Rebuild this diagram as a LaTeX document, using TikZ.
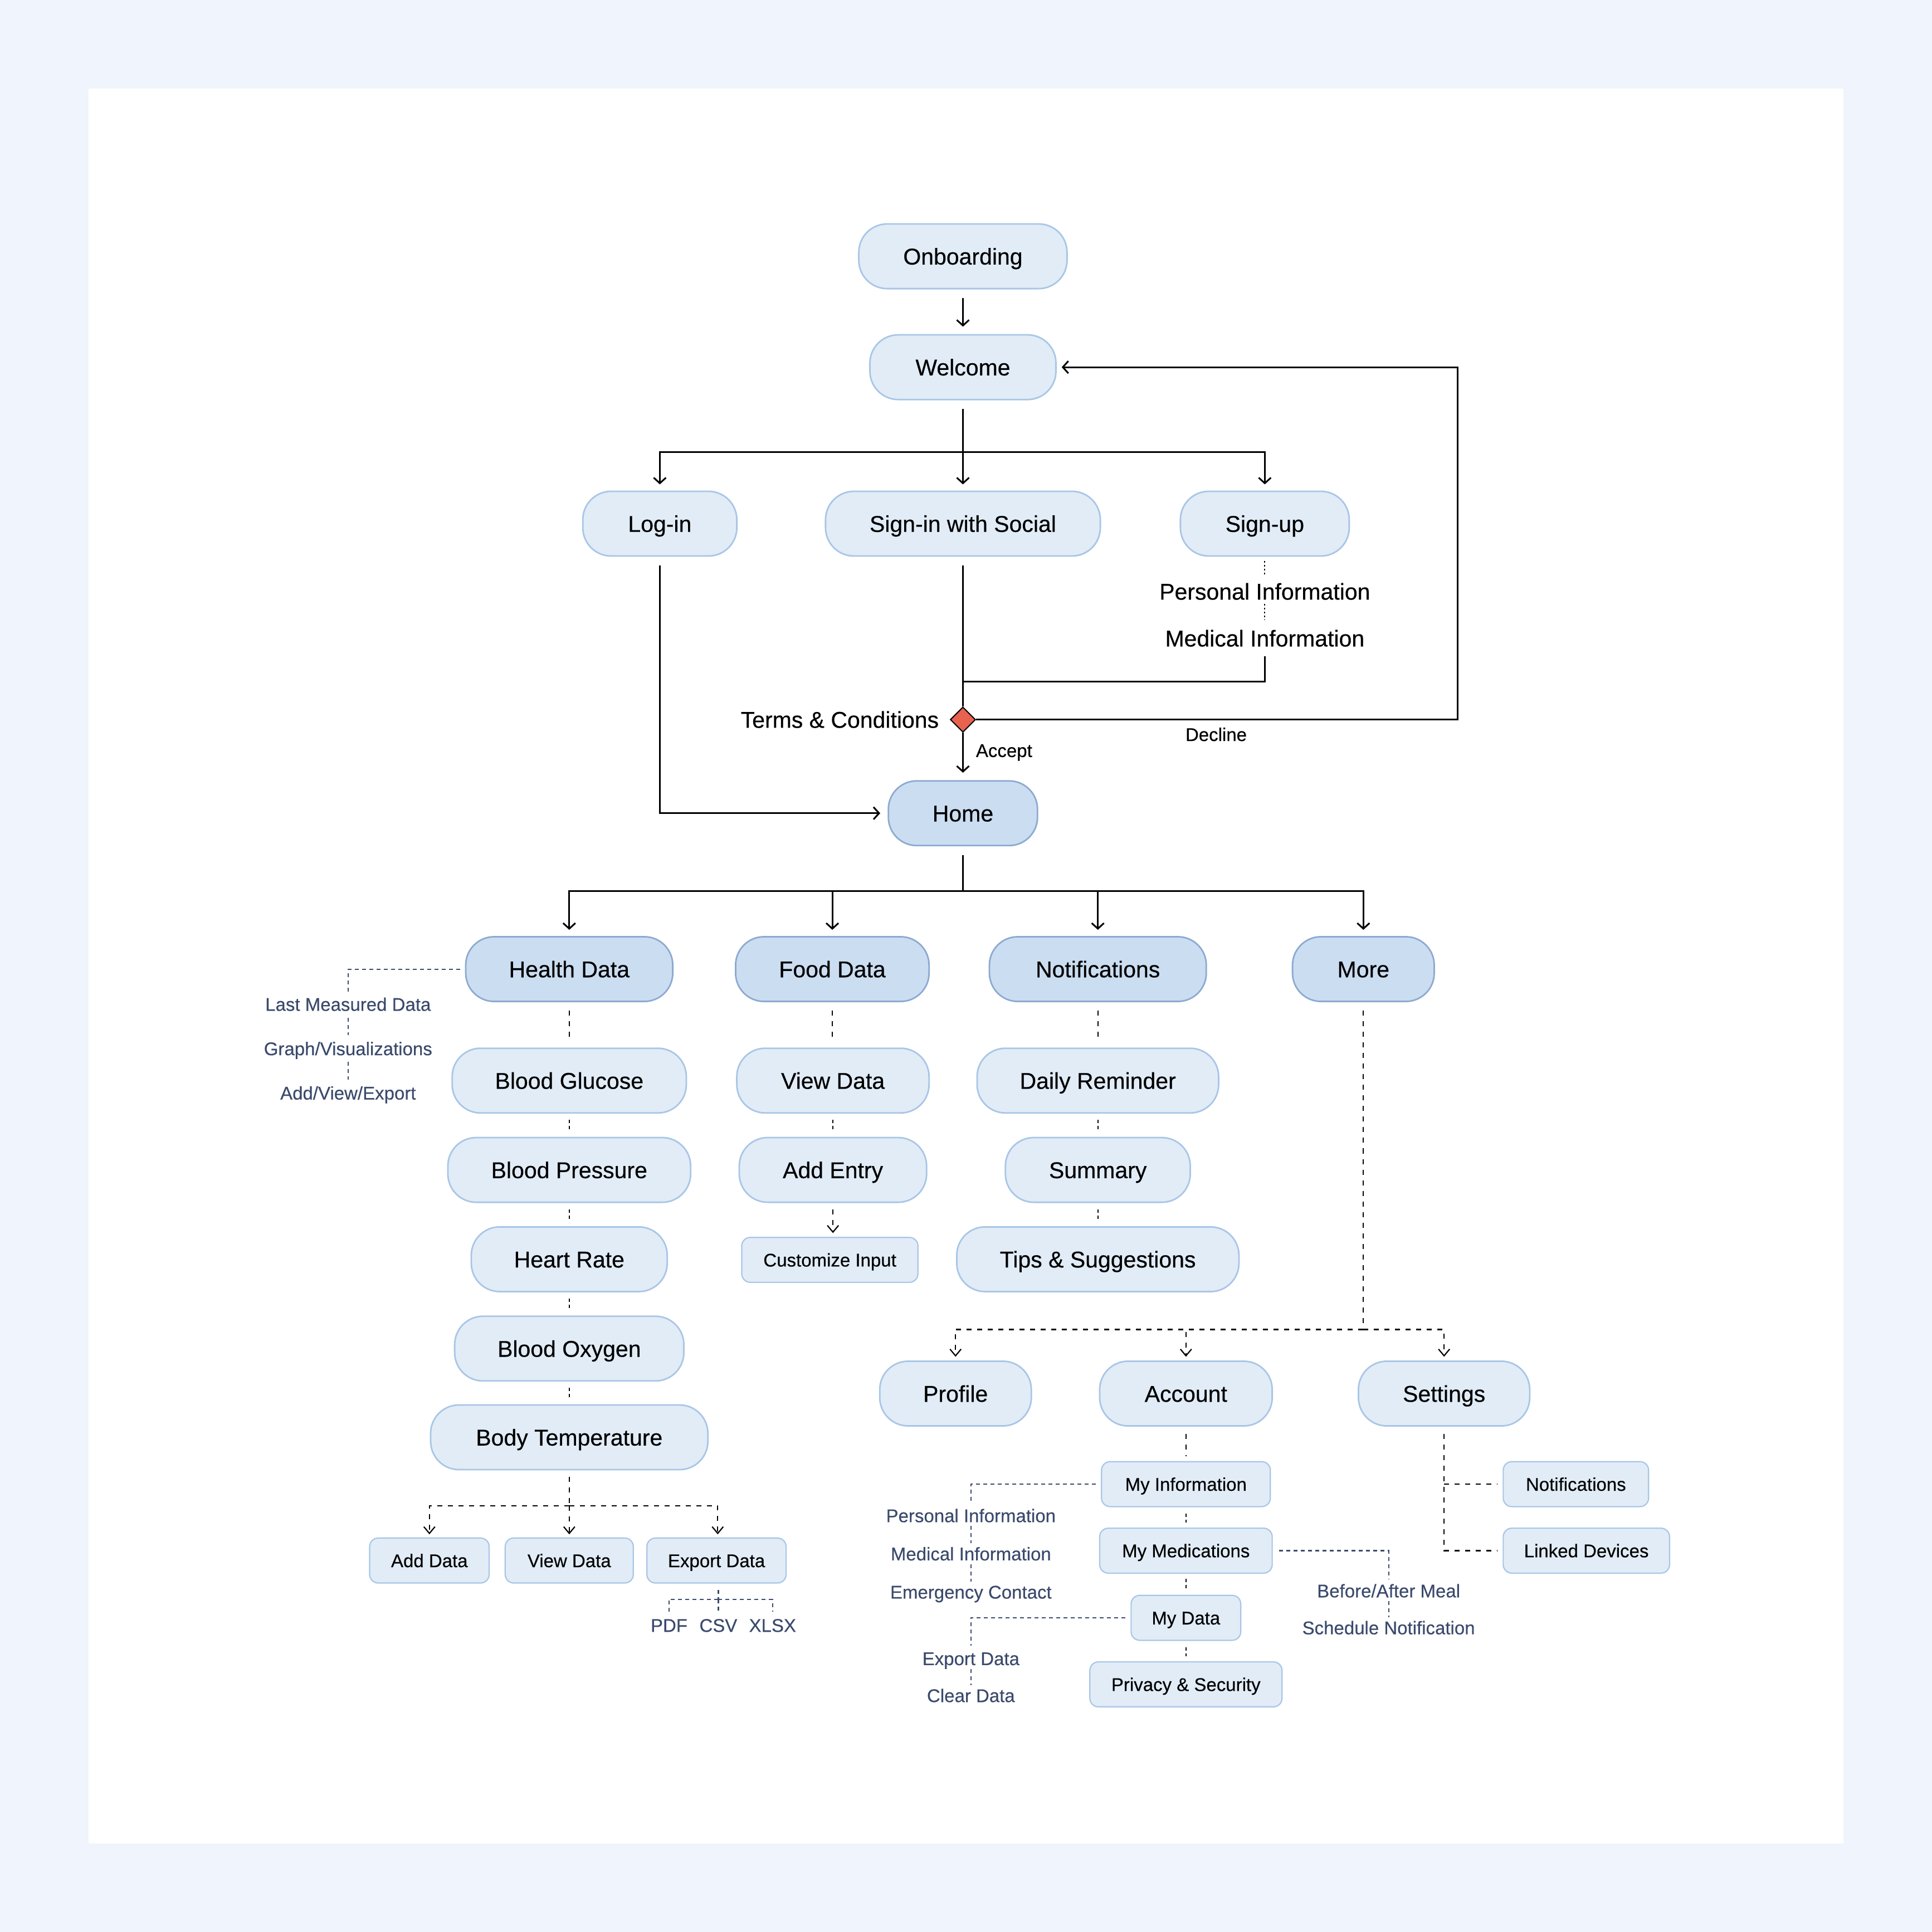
\documentclass[tikz,border=0pt]{standalone}
\usepackage{fontspec}
\setmainfont{Liberation Sans}[FakeBold=0.35]
\usetikzlibrary{arrows.meta,shapes.geometric,calc}
\newlength{\vu}\setlength{\vu}{2.2117pt}
\newcommand\fbig{\fontsize{41pt}{49pt}\selectfont}
\newcommand\fsmall{\fontsize{33pt}{40pt}\selectfont}
\definecolor{bgout}{HTML}{F0F4FC}
\definecolor{fillL}{HTML}{E1ECF7}
\definecolor{drawL}{HTML}{A9C6E6}
\definecolor{fillD}{HTML}{CBDDF1}
\definecolor{drawD}{HTML}{8DAAD0}
\definecolor{slate}{HTML}{3B4A6C}
\definecolor{dred}{HTML}{E8624F}
\tikzset{
  pill/.style={draw=drawL, fill=fillL, line width=2.8pt, rounded corners=23\vu,
    minimum height=52.5\vu, inner sep=0pt, font=\fbig, text height=29.5pt, text depth=0pt, text=black},
  pillD/.style={pill, draw=drawD, fill=fillD},
  sbox/.style={draw=drawL, fill=fillL, line width=2.2pt, rounded corners=7\vu,
    minimum height=36.5\vu, inner sep=0pt, font=\fsmall, text height=23.8pt, text depth=0pt, text=black},
  lbl/.style={inner sep=0pt, font=\fbig, text height=29.5pt, text depth=0pt, text=black},
  slbl/.style={inner sep=0pt, font=\fsmall, text height=23.8pt, text depth=0pt, text=black},
  sl/.style={slbl, text=slate},
  conn/.style={draw=black, line width=3pt},
  arr/.style={conn, -{Straight Barb[length=10pt,width=22pt]}},
  dsh/.style={draw=black, line width=2.2pt, dash pattern=on 9pt off 10pt},
  sdash/.style={draw=black, line width=2.2pt, dash pattern=on 6pt off 5pt},
  darr/.style={dsh, -{Straight Barb[length=12pt,width=20pt]}},
  sdsh/.style={draw=slate, line width=2.1pt, dash pattern=on 7pt off 6pt},
  dotl/.style={draw=black, line width=2pt, dash pattern=on 3pt off 4pt},
}
\begin{document}
\begin{tikzpicture}[x=2.2117pt,y=-2.2117pt]
\fill[bgout] (0,0) rectangle (1568,1568);
\fill[white] (72,72) rectangle (1496,1496);
\useasboundingbox (0,0) rectangle (1568,1568);

% top flow
\node[pill, minimum width=169\vu] (onb) at (781.5,208) {Onboarding};
\node[pill, minimum width=151\vu] (wel) at (781.5,298) {Welcome};
\node[pill, minimum width=125\vu] (login) at (535.5,425) {Log-in};
\node[pill, minimum width=223\vu] (social) at (781.5,425) {Sign-in with Social};
\node[pill, minimum width=137\vu] (signup) at (1026.5,425) {Sign-up};
\node[lbl] (pinfo) at (1026.5,480) {Personal Information};
\node[lbl] (minfo) at (1026.5,518) {Medical Information};
\node[diamond, draw=black, fill=dred, line width=2pt, minimum size=20.5\vu, inner sep=0pt] (tc) at (781.5,584) {};
\node[lbl, anchor=east] (tclabel) at (762,584) {Terms \& Conditions};
\node[slbl, anchor=west] (accept) at (792,609) {Accept};
\node[slbl] (decline) at (987,596) {Decline};
\node[pillD, minimum width=121\vu] (home) at (781.5,660) {Home};

\coordinate (j1) at (781.5,367);
\coordinate (j2) at (781.5,553);
\coordinate (dc) at (1183,584);
\coordinate (j3) at (781.5,723);

\draw[arr, shorten <=7\vu, shorten >=6\vu] (onb.south) -- (wel.north);
\draw[conn, shorten <=7\vu] (wel.south) -- (j1);
\draw[arr, shorten >=5\vu] (j1) -| (login.north);
\draw[arr, shorten >=5\vu] (j1) -| (signup.north);
\draw[arr, shorten >=5\vu] (j1) -- (social.north);
\draw[dotl, shorten <=3.5\vu, shorten >=6.3\vu] (signup.south) -- (pinfo.north);
\draw[dotl, shorten <=3.5\vu, shorten >=8\vu] (pinfo.south) -- (minfo.north);
\draw[conn, shorten <=8\vu] (minfo.south) |- (j2);
\draw[conn, shorten <=7\vu] (social.south) -- (tc.north);
\draw[arr, shorten >=4\vu] (tc.east) -- (dc) |- (wel.east);
\draw[arr, shorten >=6\vu] (tc.south) -- (home.north);
\draw[arr, shorten <=7\vu, shorten >=6\vu] (login.south) |- (home.west);

% second level
\node[pillD, minimum width=168\vu] (health) at (462,786.5) {Health Data};
\node[pillD, minimum width=157\vu] (food) at (675.5,786.5) {Food Data};
\node[pillD, minimum width=176\vu] (notif) at (891,786.5) {Notifications};
\node[pillD, minimum width=115\vu] (more) at (1106.5,786.5) {More};

\draw[conn, shorten <=7\vu] (home.south) -- (j3);
\draw[arr, shorten >=5\vu] (j3) -| (health.north);
\draw[arr, shorten >=5\vu] (j3) -| (food.north);
\draw[arr, shorten >=5\vu] (j3) -| (notif.north);
\draw[arr, shorten >=5\vu] (j3) -| (more.north);

% health column
\node[pill, minimum width=190\vu] (glucose) at (462,877) {Blood Glucose};
\node[pill, minimum width=197\vu] (pressure) at (462,949.5) {Blood Pressure};
\node[pill, minimum width=159\vu] (heart) at (462,1022) {Heart Rate};
\node[pill, minimum width=186\vu] (oxygen) at (462,1094.5) {Blood Oxygen};
\node[pill, minimum width=225\vu] (bodyt) at (462,1166.5) {Body Temperature};
\node[sbox, minimum width=97\vu] (adddata) at (348.5,1266.5) {Add Data};
\node[sbox, minimum width=104\vu] (viewdata) at (462,1266.5) {View Data};
\node[sbox, minimum width=113\vu] (export) at (581.5,1266.5) {Export Data};
\node[sl] (pdf) at (543,1319) {PDF};
\node[sl] (csv) at (583,1319) {CSV};
\node[sl] (xlsx) at (627,1319) {XLSX};
\node[sl] (lmd) at (282.5,815) {Last Measured Data};
\node[sl] (gv) at (282.5,851) {Graph/Visualizations};
\node[sl] (ave) at (282.5,887) {Add/View/Export};

\draw[dsh, shorten <=7\vu, shorten >=4\vu] (health.south) -- (glucose.north);
\draw[sdash, shorten <=5\vu, shorten >=5\vu] (glucose.south) -- (pressure.north);
\draw[sdash, shorten <=5\vu, shorten >=5\vu] (pressure.south) -- (heart.north);
\draw[sdash, shorten <=5\vu, shorten >=5\vu] (heart.south) -- (oxygen.north);
\draw[sdash, shorten <=5\vu, shorten >=5\vu] (oxygen.south) -- (bodyt.north);
\coordinate (j4) at (462,1222);
\draw[dsh, shorten <=5\vu] (bodyt.south) -- (j4);
\draw[darr, shorten >=2.5\vu] (j4) -| (adddata.north);
\draw[darr, shorten >=2.5\vu] (j4) -- (viewdata.north);
\draw[darr, shorten >=2.5\vu] (j4) -| ($(export.north)+(1,0)$);
\coordinate (j5) at (583,1298);
\draw[sdsh, shorten <=5\vu] (export.south -| j5) -- (j5);
\draw[sdsh, shorten >=5.5\vu] (j5) -| (pdf.north);
\draw[sdsh, shorten >=5.5\vu] (j5) -- (csv.north);
\draw[sdsh, shorten >=5.5\vu] (j5) -| (xlsx.north);
\coordinate (j6) at (282.5,786.5);
\draw[sdsh, shorten <=4\vu, shorten >=4.6\vu] (health.west) -- (j6) -- (lmd.north);
\draw[sdsh, shorten <=5.5\vu, shorten >=5.5\vu] (lmd.south) -- (gv.north);
\draw[sdsh, shorten <=5.5\vu, shorten >=5.5\vu] (gv.south) -- (ave.north);

% food column
\node[pill, minimum width=156\vu] (fview) at (676,877) {View Data};
\node[pill, minimum width=152\vu] (addentry) at (676,949.5) {Add Entry};
\node[sbox, minimum width=143\vu] (custom) at (673.5,1022.5) {Customize Input};
\draw[dsh, shorten <=7\vu, shorten >=4\vu] (food.south) -- (food.south |- fview.north);
\draw[sdash, shorten <=5\vu, shorten >=5\vu] (fview.south) -- (addentry.north);
\draw[darr, shorten <=5\vu, shorten >=3\vu] (addentry.south) -- (addentry.south |- custom.north);

% notifications column
\node[pill, minimum width=196\vu] (daily) at (891,877) {Daily Reminder};
\node[pill, minimum width=150\vu] (summary) at (891,949.5) {Summary};
\node[pill, minimum width=229\vu] (tips) at (891,1022) {Tips \& Suggestions};
\draw[dsh, shorten <=7\vu, shorten >=4\vu] (notif.south) -- (daily.north);
\draw[sdash, shorten <=5\vu, shorten >=5\vu] (daily.south) -- (summary.north);
\draw[sdash, shorten <=5\vu, shorten >=5\vu] (summary.south) -- (tips.north);

% more column
\node[pill, minimum width=123\vu] (profile) at (775.5,1131) {Profile};
\node[pill, minimum width=140\vu] (account) at (962.5,1131) {Account};
\node[pill, minimum width=139\vu] (settings) at (1172,1131) {Settings};
\coordinate (j7) at (1106.5,1079);
\draw[dsh, shorten <=7\vu] (more.south) -- (j7);
\draw[darr, shorten >=3\vu] (j7) -| (profile.north);
\draw[darr, shorten >=3\vu] (j7) -| (account.north);
\draw[darr, shorten >=3\vu] (j7) -| (settings.north);

\node[sbox, minimum width=137\vu] (myinfo) at (962.5,1204.5) {My Information};
\node[sbox, minimum width=140\vu] (mymed) at (962.5,1258.5) {My Medications};
\node[sbox, minimum width=89\vu] (mydata) at (962.5,1313) {My Data};
\node[sbox, minimum width=156\vu] (privacy) at (962.5,1367) {Privacy \& Security};
\node[sbox, minimum width=118\vu] (snotif) at (1279,1204.5) {Notifications};
\node[sbox, minimum width=135\vu] (linked) at (1287.5,1258.5) {Linked Devices};

\draw[dsh, shorten <=6\vu, shorten >=4\vu] (account.south) -- (myinfo.north);
\draw[sdash, shorten <=5\vu, shorten >=4\vu] (myinfo.south) -- (mymed.north);
\draw[sdash, shorten <=4\vu, shorten >=4\vu] (mymed.south) -- (mydata.north);
\draw[sdash, shorten <=5\vu, shorten >=4\vu] (mydata.south) -- (privacy.north);

\node[sl] (pi2) at (788,1230) {Personal Information};
\node[sl] (mi2) at (788,1261) {Medical Information};
\node[sl] (ec) at (788,1292) {Emergency Contact};
\node[sl] (ed) at (788,1346) {Export Data};
\node[sl] (cd) at (788,1376) {Clear Data};
\node[sl] (bam) at (1127,1291) {Before/After Meal};
\node[sl] (sn) at (1127,1321) {Schedule Notification};

\coordinate (j8) at (788,1204.5);
\coordinate (j9) at (788,1313);
\coordinate (j10) at (1127,1258.5);
\draw[sdsh, shorten <=4\vu, shorten >=4.6\vu] (myinfo.west) -- (j8) -- (pi2.north);
\draw[sdsh, shorten <=3\vu, shorten >=3\vu] (pi2.south) -- (mi2.north);
\draw[sdsh, shorten <=3\vu, shorten >=3\vu] (mi2.south) -- (ec.north);
\draw[sdsh, shorten <=4\vu, shorten >=5\vu] (mydata.west) -- (j9) -- (ed.north);
\draw[sdsh, shorten <=3\vu, shorten >=3\vu] (ed.south) -- (cd.north);
\draw[sdsh, shorten <=5\vu, shorten >=4\vu] (mymed.east) -- (j10) -- (bam.north);
\draw[sdsh, shorten <=3\vu, shorten >=3\vu] (bam.south) -- (sn.north);

\coordinate (k1) at (1172,1204.5);
\coordinate (k2) at (1172,1258.5);
\draw[dsh, shorten <=6\vu, shorten >=4\vu] (settings.south) -- (k2) -- (linked.west);
\draw[dsh, shorten >=4\vu] (k1) -- (snotif.west);
\end{tikzpicture}
\end{document}
